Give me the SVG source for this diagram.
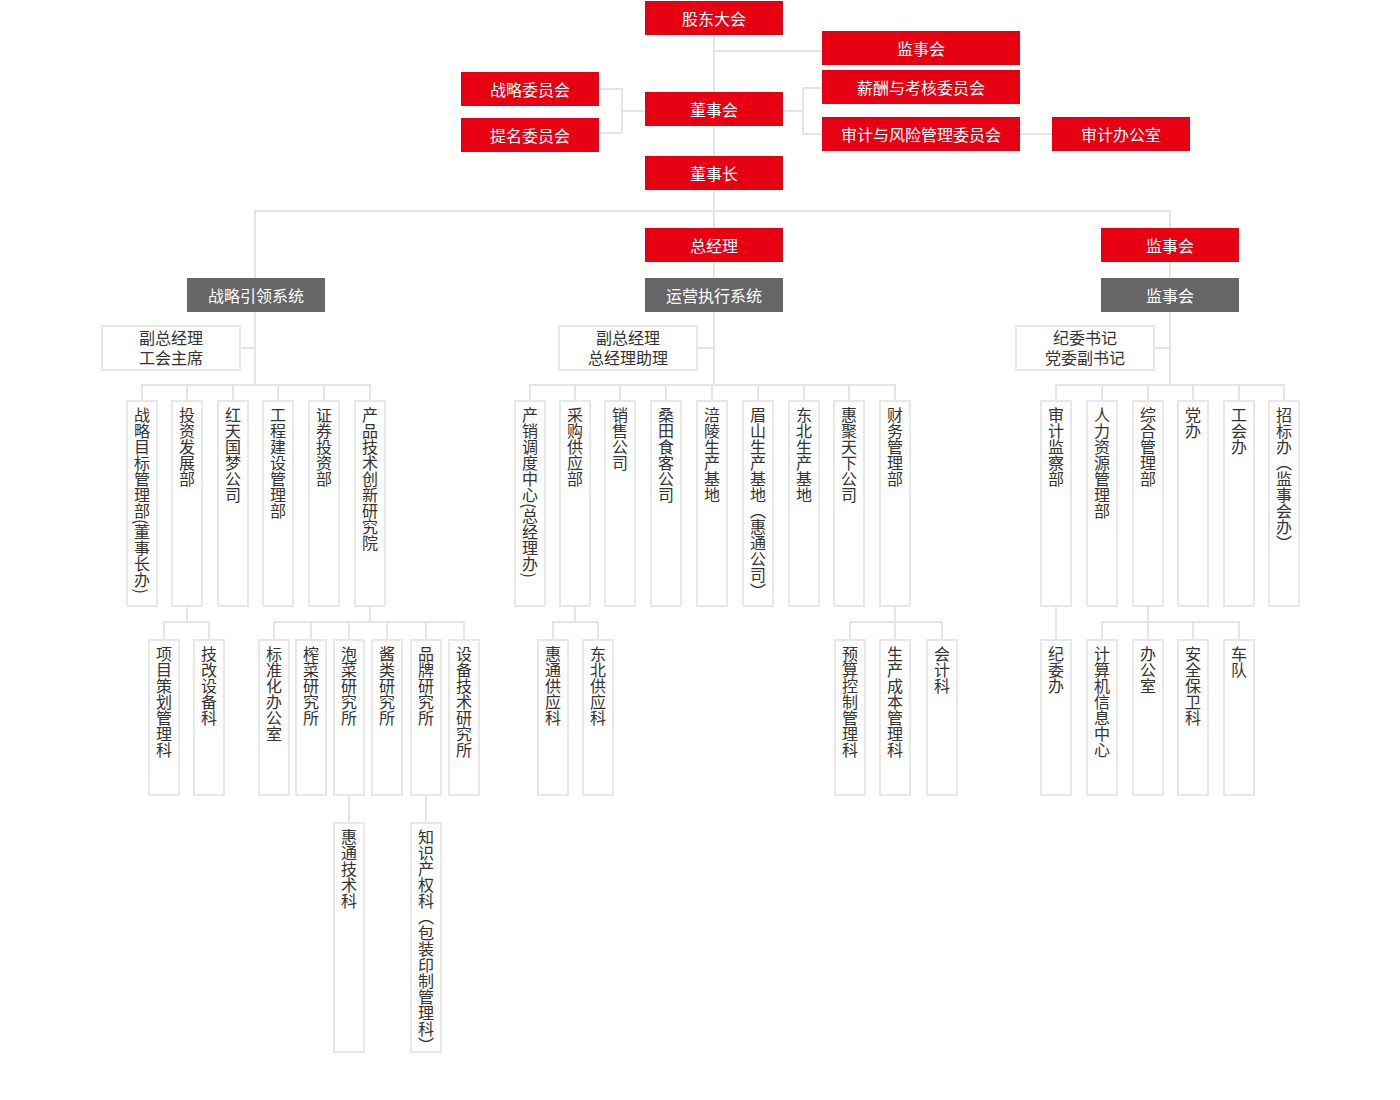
<svg xmlns="http://www.w3.org/2000/svg" width="1400" height="1100" viewBox="0 0 1400 1100">
<style>
text{font-family:"Noto Sans CJK SC","Noto Sans",sans-serif;font-size:16px}
.r{fill:#e60012}
.g{fill:#666666}
.w{fill:#ffffff;stroke:#e8e8e8;stroke-width:2}
.tw{fill:#ffffff;text-anchor:middle;dominant-baseline:central}
.td{fill:#333333;text-anchor:middle;dominant-baseline:central}
.tv{fill:#333333;writing-mode:vertical-rl;text-anchor:start}
.c{stroke:#e5e5e5;stroke-width:2;fill:none}
</style>
<rect width="1400" height="1100" fill="#ffffff"/>
<g id="connectors" class="c">
<path d="M714 35V385"/>
<path d="M714 51H822"/>
<path d="M599 89H622V133H599M622 111H645"/>
<path d="M783 111H803M822 88H803V134H822"/>
<path d="M1020 134H1052"/>
<path d="M255 385V211H1170V385"/>
<path d="M240 348H255M697 348H714M1154 348H1170"/>
<path d="M142 401V385H370V401M187 385V401M233 385V401M278 385V401M324 385V401"/>
<path d="M530 401V385H895V401M575 385V401M620 385V401M666 385V401M712 385V401M758 385V401M804 385V401M849 385V401"/>
<path d="M1056 401V385H1284V401M1102 385V401M1148 385V401M1193 385V401M1239 385V401"/>
<path d="M187 606V622M164 640V622H209V640"/>
<path d="M370 606V622M274 640V622H464V640M311 622V640M349 622V640M387 622V640M426 622V640"/>
<path d="M575 606V622M553 640V622H598V640"/>
<path d="M895 606V640M850 640V622H942V640"/>
<path d="M1056 606V640"/>
<path d="M1148 606V640M1102 640V622H1239V640M1193 622V640"/>
<path d="M349 795V823M426 795V823"/>
</g>
<g id="n-gddh"><rect class="r" x="645" y="1" width="138" height="34"/><text class="tw" x="714" y="18">股东大会</text></g>
<g id="n-jsh1"><rect class="r" x="822" y="31" width="198" height="34"/><text class="tw" x="921" y="48">监事会</text></g>
<g id="n-xc"><rect class="r" x="822" y="70" width="198" height="34"/><text class="tw" x="921" y="87">薪酬与考核委员会</text></g>
<g id="n-sjfx"><rect class="r" x="822" y="117" width="198" height="34"/><text class="tw" x="921" y="134">审计与风险管理委员会</text></g>
<g id="n-sjbgs"><rect class="r" x="1052" y="117" width="138" height="34"/><text class="tw" x="1121" y="134">审计办公室</text></g>
<g id="n-zlwyh"><rect class="r" x="461" y="72" width="138" height="34"/><text class="tw" x="530" y="89">战略委员会</text></g>
<g id="n-tmwyh"><rect class="r" x="461" y="118" width="138" height="34"/><text class="tw" x="530" y="135">提名委员会</text></g>
<g id="n-dsh"><rect class="r" x="645" y="92" width="138" height="34"/><text class="tw" x="714" y="109">董事会</text></g>
<g id="n-dsz"><rect class="r" x="645" y="156" width="138" height="34"/><text class="tw" x="714" y="173">董事长</text></g>
<g id="n-zjl"><rect class="r" x="645" y="228" width="138" height="34"/><text class="tw" x="714" y="245">总经理</text></g>
<g id="n-jsh2"><rect class="r" x="1101" y="228" width="138" height="34"/><text class="tw" x="1170" y="245">监事会</text></g>
<g id="n-zlyl"><rect class="g" x="187" y="278" width="138" height="34"/><text class="tw" x="256" y="295">战略引领系统</text></g>
<g id="n-yyzx"><rect class="g" x="645" y="278" width="138" height="34"/><text class="tw" x="714" y="295">运营执行系统</text></g>
<g id="n-jsh3"><rect class="g" x="1101" y="278" width="138" height="34"/><text class="tw" x="1170" y="295">监事会</text></g>
<g id="n-fzjl1"><rect class="w" x="102" y="326" width="138" height="44"/><text class="td" x="171" y="337">副总经理</text><text class="td" x="171" y="357">工会主席</text></g>
<g id="n-fzjl2"><rect class="w" x="559" y="326" width="138" height="44"/><text class="td" x="628" y="337">副总经理</text><text class="td" x="628" y="357">总经理助理</text></g>
<g id="n-jwsj"><rect class="w" x="1016" y="326" width="138" height="44"/><text class="td" x="1085" y="337">纪委书记</text><text class="td" x="1085" y="357">党委副书记</text></g>
<g id="u1"><rect class="w" x="127" y="401" width="30" height="205"/><text class="tv" x="142" y="407">战略目标管理部(董事长办)</text></g>
<g id="u2"><rect class="w" x="172" y="401" width="30" height="205"/><text class="tv" x="187" y="407">投资发展部</text></g>
<g id="u3"><rect class="w" x="218" y="401" width="30" height="205"/><text class="tv" x="233" y="407">红天国梦公司</text></g>
<g id="u4"><rect class="w" x="263" y="401" width="30" height="205"/><text class="tv" x="278" y="407">工程建设管理部</text></g>
<g id="u5"><rect class="w" x="309" y="401" width="30" height="205"/><text class="tv" x="324" y="407">证券投资部</text></g>
<g id="u6"><rect class="w" x="355" y="401" width="30" height="205"/><text class="tv" x="370" y="407">产品技术创新研究院</text></g>
<g id="u7"><rect class="w" x="515" y="401" width="30" height="205"/><text class="tv" x="530" y="407">产销调度中心(总经理办)</text></g>
<g id="u8"><rect class="w" x="560" y="401" width="30" height="205"/><text class="tv" x="575" y="407">采购供应部</text></g>
<g id="u9"><rect class="w" x="605" y="401" width="30" height="205"/><text class="tv" x="620" y="407">销售公司</text></g>
<g id="u10"><rect class="w" x="651" y="401" width="30" height="205"/><text class="tv" x="666" y="407">桑田食客公司</text></g>
<g id="u11"><rect class="w" x="697" y="401" width="30" height="205"/><text class="tv" x="712" y="407">涪陵生产基地</text></g>
<g id="u12"><rect class="w" x="743" y="401" width="30" height="205"/><text class="tv" x="758" y="407">眉山生产基地（惠通公司）</text></g>
<g id="u13"><rect class="w" x="789" y="401" width="30" height="205"/><text class="tv" x="804" y="407">东北生产基地</text></g>
<g id="u14"><rect class="w" x="834" y="401" width="30" height="205"/><text class="tv" x="849" y="407">惠聚天下公司</text></g>
<g id="u15"><rect class="w" x="880" y="401" width="30" height="205"/><text class="tv" x="895" y="407">财务管理部</text></g>
<g id="u16"><rect class="w" x="1041" y="401" width="30" height="205"/><text class="tv" x="1056" y="407">审计监察部</text></g>
<g id="u17"><rect class="w" x="1087" y="401" width="30" height="205"/><text class="tv" x="1102" y="407">人力资源管理部</text></g>
<g id="u18"><rect class="w" x="1133" y="401" width="30" height="205"/><text class="tv" x="1148" y="407">综合管理部</text></g>
<g id="u19"><rect class="w" x="1178" y="401" width="30" height="205"/><text class="tv" x="1193" y="407">党办</text></g>
<g id="u20"><rect class="w" x="1224" y="401" width="30" height="205"/><text class="tv" x="1239" y="407">工会办</text></g>
<g id="u21"><rect class="w" x="1269" y="401" width="30" height="205"/><text class="tv" x="1284" y="407">招标办（监事会办）</text></g>
<g id="l1"><rect class="w" x="149" y="640" width="30" height="155"/><text class="tv" x="164" y="646">项目策划管理科</text></g>
<g id="l2"><rect class="w" x="194" y="640" width="30" height="155"/><text class="tv" x="209" y="646">技改设备科</text></g>
<g id="l3"><rect class="w" x="259" y="640" width="30" height="155"/><text class="tv" x="274" y="646">标准化办公室</text></g>
<g id="l4"><rect class="w" x="296" y="640" width="30" height="155"/><text class="tv" x="311" y="646">榨菜研究所</text></g>
<g id="l5"><rect class="w" x="334" y="640" width="30" height="155"/><text class="tv" x="349" y="646">泡菜研究所</text></g>
<g id="l6"><rect class="w" x="372" y="640" width="30" height="155"/><text class="tv" x="387" y="646">酱类研究所</text></g>
<g id="l7"><rect class="w" x="411" y="640" width="30" height="155"/><text class="tv" x="426" y="646">品牌研究所</text></g>
<g id="l8"><rect class="w" x="449" y="640" width="30" height="155"/><text class="tv" x="464" y="646">设备技术研究所</text></g>
<g id="l9"><rect class="w" x="538" y="640" width="30" height="155"/><text class="tv" x="553" y="646">惠通供应科</text></g>
<g id="l10"><rect class="w" x="583" y="640" width="30" height="155"/><text class="tv" x="598" y="646">东北供应科</text></g>
<g id="l11"><rect class="w" x="835" y="640" width="30" height="155"/><text class="tv" x="850" y="646">预算控制管理科</text></g>
<g id="l12"><rect class="w" x="880" y="640" width="30" height="155"/><text class="tv" x="895" y="646">生产成本管理科</text></g>
<g id="l13"><rect class="w" x="927" y="640" width="30" height="155"/><text class="tv" x="942" y="646">会计科</text></g>
<g id="l14"><rect class="w" x="1041" y="640" width="30" height="155"/><text class="tv" x="1056" y="646">纪委办</text></g>
<g id="l15"><rect class="w" x="1087" y="640" width="30" height="155"/><text class="tv" x="1102" y="646">计算机信息中心</text></g>
<g id="l16"><rect class="w" x="1133" y="640" width="30" height="155"/><text class="tv" x="1148" y="646">办公室</text></g>
<g id="l17"><rect class="w" x="1178" y="640" width="30" height="155"/><text class="tv" x="1193" y="646">安全保卫科</text></g>
<g id="l18"><rect class="w" x="1224" y="640" width="30" height="155"/><text class="tv" x="1239" y="646">车队</text></g>
<g id="b1"><rect class="w" x="334" y="823" width="30" height="229"/><text class="tv" x="349" y="829">惠通技术科</text></g>
<g id="b2"><rect class="w" x="411" y="823" width="30" height="229"/><text class="tv" x="426" y="829">知识产权科（包装印制管理科）</text></g>
</svg>
